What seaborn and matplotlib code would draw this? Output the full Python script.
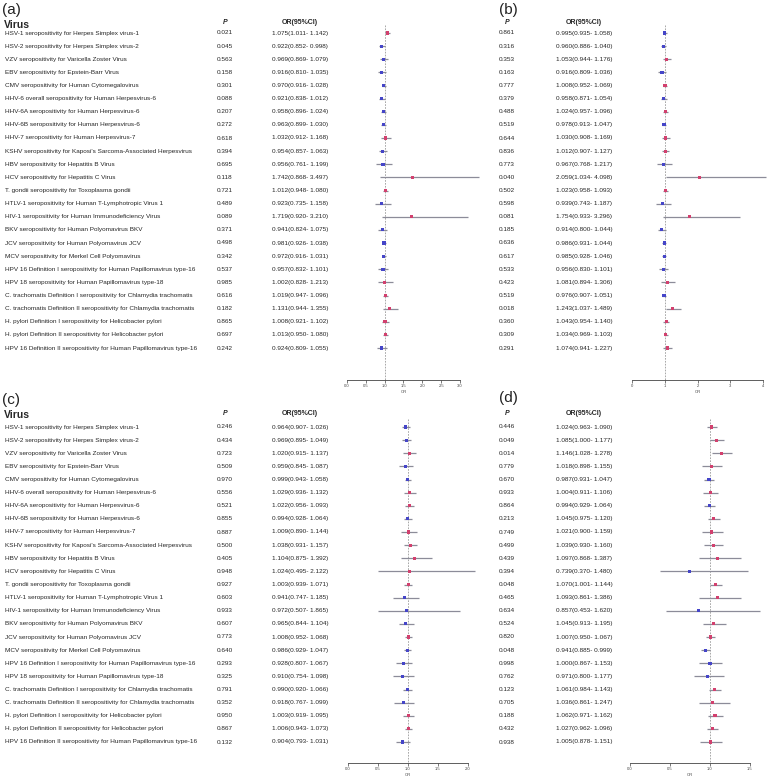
import numpy as np
import pandas as pd
import seaborn as sns
import matplotlib.pyplot as plt
import matplotlib.transforms as mtransforms

viruses = [
    "HSV-1 seropositivity for Herpes Simplex virus-1",
    "HSV-2 seropositivity for Herpes Simplex virus-2",
    "VZV seropositivity for Varicella Zoster Virus",
    "EBV seropositivity for Epstein-Barr Virus",
    "CMV seropositivity for Human Cytomegalovirus",
    "HHV-6 overall seropositivity for Human Herpesvirus-6",
    "HHV-6A seropositivity for Human Herpesvirus-6",
    "HHV-6B seropositivity for Human Herpesvirus-6",
    "HHV-7 seropositivity for Human Herpesvirus-7",
    "KSHV seropositivity for Kaposi's Sarcoma-Associated Herpesvirus",
    "HBV seropositivity for Hepatitis B Virus",
    "HCV seropositivity for Hepatitis C Virus",
    "T. gondii seropositivity for Toxoplasma gondii",
    "HTLV-1 seropositivity for Human T-Lymphotropic Virus 1",
    "HIV-1 seropositivity for Human Immunodeficiency Virus",
    "BKV seropositivity for Human Polyomavirus BKV",
    "JCV seropositivity for Human Polyomavirus JCV",
    "MCV seropositivity for Merkel Cell Polyomavirus",
    "HPV 16 Definition I seropositivity for Human Papillomavirus type-16",
    "HPV 18 seropositivity for Human Papillomavirus type-18",
    "C. trachomatis Definition I seropositivity for Chlamydia trachomatis",
    "C. trachomatis Definition II seropositivity for Chlamydia trachomatis",
    "H. pylori Definition I seropositivity for Helicobacter pylori",
    "H. pylori Definition II seropositivity for Helicobacter pylori",
    "HPV 16 Definition II seropositivity for Human Papillomavirus type-16",
]

# panel (a)
p_a = [0.021, 0.045, 0.563, 0.158, 0.301, 0.088, 0.207, 0.272, 0.618, 0.394, 0.695, 0.118, 0.721,
       0.489, 0.089, 0.371, 0.498, 0.342, 0.537, 0.985, 0.616, 0.182, 0.865, 0.697, 0.242]
or_a = [1.075, 0.922, 0.969, 0.916, 0.970, 0.921, 0.958, 0.963, 1.032, 0.954, 0.956, 1.742, 1.012,
        0.923, 1.719, 0.941, 0.981, 0.972, 0.957, 1.002, 1.019, 1.131, 1.008, 1.013, 0.924]
lo_a = [1.011, 0.852, 0.869, 0.810, 0.916, 0.838, 0.896, 0.899, 0.912, 0.857, 0.761, 0.868, 0.948,
        0.735, 0.920, 0.824, 0.926, 0.916, 0.832, 0.828, 0.947, 0.944, 0.921, 0.950, 0.809]
hi_a = [1.142, 0.998, 1.079, 1.035, 1.028, 1.012, 1.024, 1.030, 1.168, 1.063, 1.199, 3.497, 1.080,
        1.158, 3.210, 1.075, 1.038, 1.031, 1.101, 1.213, 1.096, 1.355, 1.102, 1.080, 1.055]

# panel (b)
p_b = [0.861, 0.316, 0.353, 0.163, 0.777, 0.379, 0.488, 0.519, 0.644, 0.836, 0.773, 0.040, 0.502,
       0.598, 0.081, 0.185, 0.636, 0.617, 0.533, 0.423, 0.519, 0.018, 0.360, 0.309, 0.291]
or_b = [0.995, 0.960, 1.053, 0.916, 1.008, 0.958, 1.024, 0.978, 1.030, 1.012, 0.967, 2.059, 1.023,
        0.939, 1.754, 0.914, 0.986, 0.985, 0.956, 1.081, 0.976, 1.243, 1.043, 1.034, 1.074]
lo_b = [0.935, 0.886, 0.944, 0.809, 0.952, 0.871, 0.957, 0.913, 0.908, 0.907, 0.768, 1.034, 0.958,
        0.743, 0.933, 0.800, 0.931, 0.928, 0.830, 0.894, 0.907, 1.037, 0.954, 0.969, 0.941]
hi_b = [1.058, 1.040, 1.176, 1.036, 1.069, 1.054, 1.096, 1.047, 1.169, 1.127, 1.217, 4.098, 1.093,
        1.187, 3.296, 1.044, 1.044, 1.046, 1.101, 1.306, 1.051, 1.489, 1.140, 1.103, 1.227]

# panel (c)
p_c = [0.246, 0.434, 0.723, 0.509, 0.970, 0.556, 0.521, 0.855, 0.887, 0.500, 0.405, 0.948, 0.927,
       0.603, 0.933, 0.607, 0.773, 0.640, 0.293, 0.325, 0.791, 0.352, 0.950, 0.867, 0.132]
or_c = [0.964, 0.969, 1.020, 0.959, 0.999, 1.029, 1.022, 0.994, 1.009, 1.038, 1.104, 1.024, 1.003,
        0.941, 0.972, 0.965, 1.008, 0.986, 0.928, 0.910, 0.990, 0.918, 1.003, 1.006, 0.904]
lo_c = [0.907, 0.895, 0.915, 0.845, 0.943, 0.936, 0.956, 0.928, 0.890, 0.931, 0.875, 0.495, 0.939,
        0.747, 0.507, 0.844, 0.952, 0.929, 0.807, 0.754, 0.920, 0.767, 0.919, 0.943, 0.793]
hi_c = [1.026, 1.049, 1.137, 1.087, 1.058, 1.132, 1.093, 1.064, 1.144, 1.157, 1.392, 2.122, 1.071,
        1.185, 1.865, 1.104, 1.068, 1.047, 1.067, 1.098, 1.066, 1.099, 1.095, 1.073, 1.031]

# panel (d)
p_d = [0.446, 0.049, 0.014, 0.779, 0.670, 0.933, 0.864, 0.213, 0.749, 0.499, 0.439, 0.394, 0.048,
       0.465, 0.634, 0.524, 0.820, 0.048, 0.998, 0.762, 0.123, 0.705, 0.188, 0.432, 0.938]
or_d = [1.024, 1.085, 1.146, 1.018, 0.987, 1.004, 0.994, 1.045, 1.021, 1.039, 1.097, 0.739, 1.070,
        1.093, 0.857, 1.045, 1.007, 0.941, 1.000, 0.971, 1.061, 1.036, 1.062, 1.027, 1.005]
lo_d = [0.963, 1.000, 1.028, 0.898, 0.931, 0.911, 0.929, 0.975, 0.900, 0.930, 0.868, 0.370, 1.001,
        0.861, 0.453, 0.913, 0.950, 0.885, 0.867, 0.800, 0.984, 0.861, 0.971, 0.962, 0.878]
hi_d = [1.090, 1.177, 1.278, 1.155, 1.047, 1.106, 1.064, 1.120, 1.159, 1.160, 1.387, 1.480, 1.144,
        1.386, 1.620, 1.195, 1.067, 0.999, 1.153, 1.177, 1.143, 1.247, 1.162, 1.096, 1.151]

ticks_a = [0.0, 0.5, 1.0, 1.5, 2.0, 2.5, 3.0]
ticks_b = [0, 1, 2, 3, 4]
ticks_c = [0.0, 0.5, 1.0, 1.5, 2.0]
ticks_d = [0.0, 0.5, 1.0, 1.5]

sns.set_theme(style="white")
plt.rcParams['font.family'] = ['Liberation Sans', 'DejaVu Sans']

W, H = 767, 782
fig = plt.figure(figsize=(W / 100, H / 100), dpi=100)

RED = "#d2406e"
BLUE = "#4545c8"
TXT = "#262626"
STEP = 13.125


def make_ax(x0, x1, xmax, row0, axis_y):
    # forest axes, pixel geometry -> figure fraction
    top = row0 - STEP
    ax = fig.add_axes([x0 / W, 1 - axis_y / H, (x1 - x0) / W, (axis_y - top) / H])
    ax.set_xlim(0, xmax)
    ax.set_ylim((axis_y - row0) / STEP, -1)
    return ax


def forest(ax, ors, los, his, ticks):
    df = pd.DataFrame({"row": np.arange(len(ors)), "OR": ors, "lo": los, "hi": his})
    df["dir"] = np.where(df["OR"] > 1, "up", "down")
    ax.hlines(df["row"], df["lo"], df["hi"], color="#8c8c99", lw=0.9, clip_on=False, zorder=2)
    ax.plot([1, 1], [-0.6, ax.get_ylim()[0]], ls=(0, (2, 1.5)), color="#9a9a9a", lw=0.6, zorder=1)
    sns.scatterplot(data=df, x="OR", y="row", hue="dir", palette={"up": RED, "down": BLUE},
                    marker="s", s=5, linewidth=0, legend=False, ax=ax, zorder=3, clip_on=False)
    for s in ["top", "right", "left"]:
        ax.spines[s].set_visible(False)
    ax.spines["bottom"].set_bounds(ticks[0], ticks[-1])
    ax.spines["bottom"].set_linewidth(0.6)
    ax.spines["bottom"].set_color("#444444")
    ax.set_yticks([])
    ax.set_xticks(ticks)
    ax.set_xticklabels([str(t) for t in ticks])
    ax.tick_params(axis="x", bottom=True, length=2, width=0.5, labelsize=3, pad=1, colors="#444444")
    ax.set_xlabel("OR", fontsize=3, labelpad=1, color="#444444")
    ax.set_ylabel("")


def table(ax, ps, ors, los, his, px, ox, head_y, label, lab_xy, names=True):
    tr = mtransforms.blended_transform_factory(fig.transFigure, ax.transData)
    row_hd = -1 + (head_y - (ax.transData.transform((0, -1))[1]))
    fig.text(lab_xy[0] / W, 1 - lab_xy[1] / H, label, fontsize=11, va="center", ha="left", color="#222222")
    hy = 1 - head_y / H
    if names:
        fig.text(4 / W, 1 - (head_y + 1.5) / H, "Virus", fontsize=7.5, fontweight="bold", va="center", color=TXT)
    fig.text(px / W, hy, "P", fontsize=5, fontweight="bold", style="italic", ha="center", va="center", color=TXT)
    fig.text(ox / W, hy, "OR(95%CI)", fontsize=5, fontweight="bold", ha="center", va="center", color=TXT)
    for i in range(len(ps)):
        if names:
            ax.text(5 / W, i, viruses[i], transform=tr, fontsize=4.6, va="center", ha="left", color=TXT)
        ax.text(px / W, i, f"{ps[i]:.3f}", transform=tr, fontsize=4.6, va="center", ha="center", color=TXT)
        ax.text(ox / W, i, f"{ors[i]:.3f}({los[i]:.3f}- {his[i]:.3f})", transform=tr,
                fontsize=4.6, va="center", ha="center", color=TXT)


ax_a = make_ax(347, 460, 3.0, 33, 380)
forest(ax_a, or_a, lo_a, hi_a, ticks_a)
table(ax_a, p_a, or_a, lo_a, hi_a, 225, 300, 23, "(a)", (2, 10))

ax_b = make_ax(632, 763, 4.0, 33, 380)
forest(ax_b, or_b, lo_b, hi_b, ticks_b)
table(ax_b, p_b, or_b, lo_b, hi_b, 507, 584, 23, "(b)", (499, 10), names=False)

ax_c = make_ax(348, 468, 2.0, 427, 763)
forest(ax_c, or_c, lo_c, hi_c, ticks_c)
table(ax_c, p_c, or_c, lo_c, hi_c, 225, 300, 413, "(c)", (2, 400))

ax_d = make_ax(630, 750, 1.5, 427, 763)
forest(ax_d, or_d, lo_d, hi_d, ticks_d)
table(ax_d, p_d, or_d, lo_d, hi_d, 507, 584, 413, "(d)", (499, 398), names=False)

fig.savefig("out.png", dpi=100, facecolor="white")
